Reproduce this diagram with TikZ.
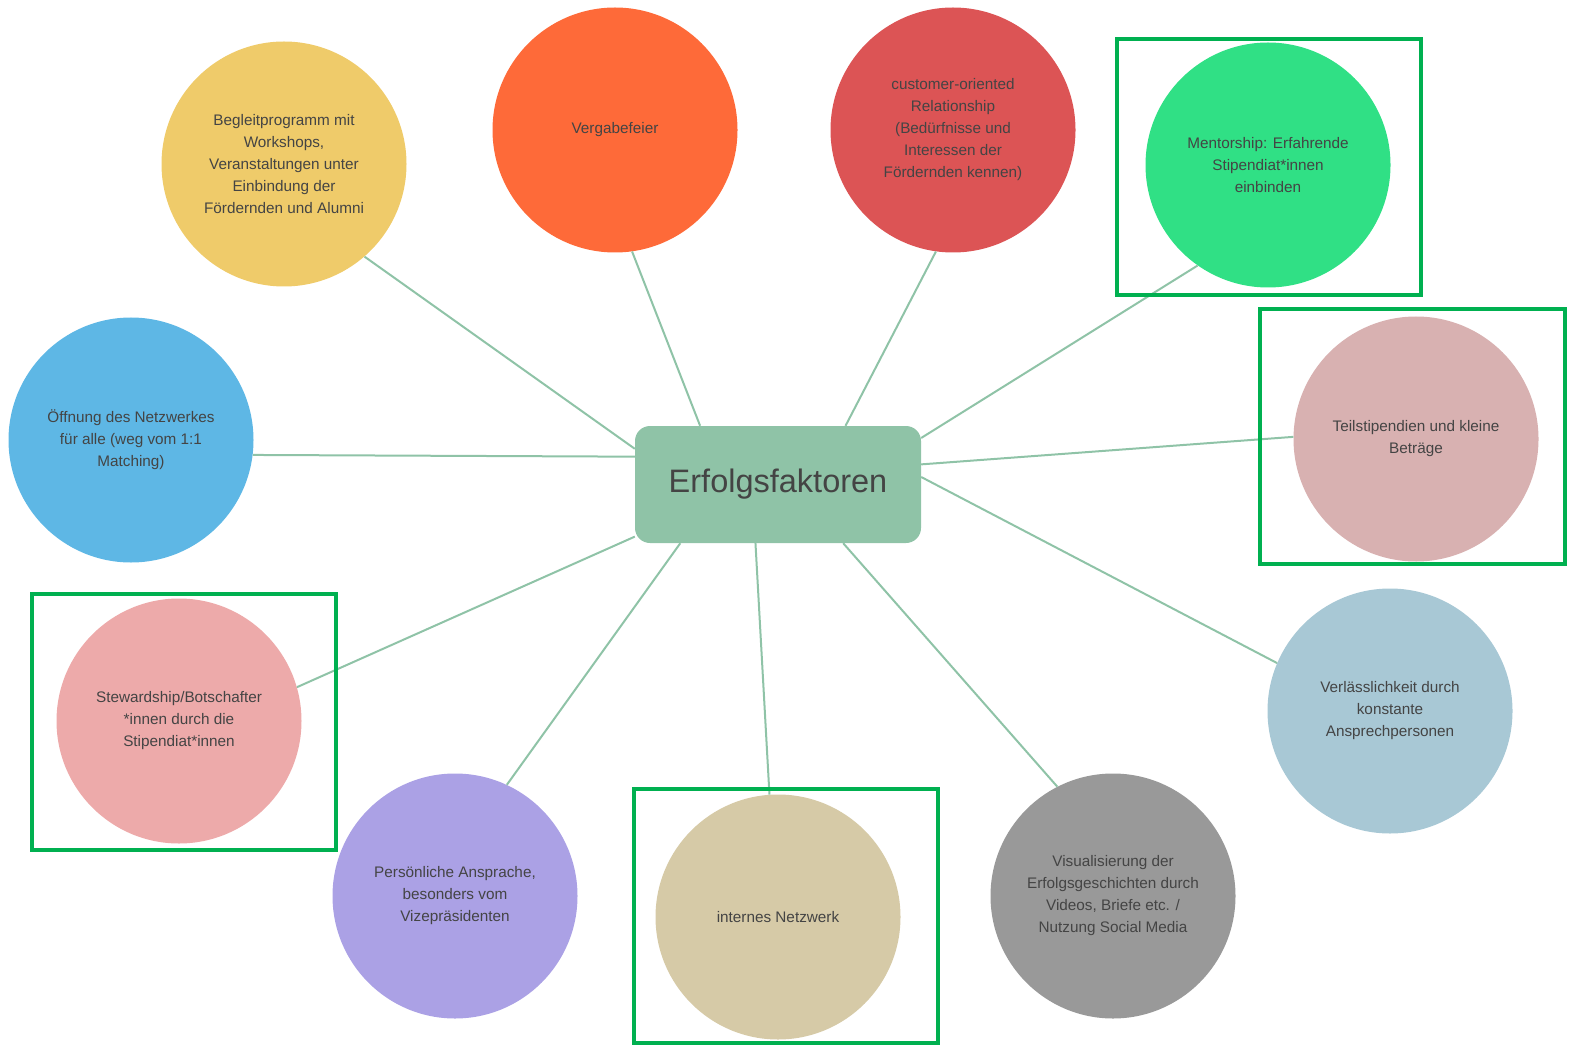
\documentclass[tikz,border=0pt]{standalone}
\usepackage{fontspec}
\setmainfont{Liberation Sans}
\usetikzlibrary{positioning}
\definecolor{hubgreen}{HTML}{8FC3A7}
\definecolor{boxgreen}{HTML}{00B050}
\definecolor{textgray}{HTML}{444444}
\definecolor{cyellow}{HTML}{EFCB6A}
\definecolor{corange}{HTML}{FE6A39}
\definecolor{cred}{HTML}{DC5455}
\definecolor{cmint}{HTML}{30E085}
\definecolor{csky}{HTML}{5EB7E5}
\definecolor{crose}{HTML}{D8B1B1}
\definecolor{csteel}{HTML}{A8C8D5}
\definecolor{cgray}{HTML}{999999}
\definecolor{ctan}{HTML}{D6CAA7}
\definecolor{clilac}{HTML}{ABA1E5}
\definecolor{cpink}{HTML}{EDAAAA}

\begin{document}
\begin{tikzpicture}[x=1pt,y=-1pt,
  bubble/.style={circle,minimum size=245pt,inner sep=0pt,align=center,
    text=textgray,font=\fontsize{15.3}{22}\selectfont},
  link/.style={draw=hubgreen,line width=2pt},
  hilite/.style={draw=boxgreen,line width=4.5pt}]
  \useasboundingbox (0,0) rectangle (1573,1048);
  % central topic
  \node[rectangle,rounded corners=15pt,fill=hubgreen,minimum width=286pt,
        minimum height=117pt,text=textgray,font=\fontsize{32.5}{36}\selectfont]
        (hub) at (778,484.5) {Erfolgsfaktoren};
  % factors around it
  \node[bubble,fill=cyellow] (begleit) at (284,164)
        {Begleitprogramm mit\\Workshops,\\Veranstaltungen unter\\Einbindung der\\Fördernden und Alumni};
  \node[bubble,fill=corange] (feier) at (615,130) {Vergabefeier};
  \node[bubble,fill=cred] (kunde) at (953,130)
        {customer-oriented\\Relationship\\(Bedürfnisse und\\Interessen der\\Fördernden kennen)};
  \node[bubble,fill=cmint] (mentor) at (1268,165)
        {Mentorship: Erfahrende\\Stipendiat*innen\\einbinden};
  \node[bubble,fill=csky] (netz) at (131,440)
        {Öffnung des Netzwerkes\\für alle (weg vom 1:1\\Matching)};
  \node[bubble,fill=crose] (teil) at (1416,439)
        {Teilstipendien und kleine\\Beträge};
  \node[bubble,fill=csteel] (verl) at (1390,711)
        {Verlässlichkeit durch\\konstante\\Ansprechpersonen};
  \node[bubble,fill=cgray] (visu) at (1113,896)
        {Visualisierung der\\Erfolgsgeschichten durch\\Videos, Briefe etc. /\\Nutzung Social Media};
  \node[bubble,fill=ctan] (intern) at (778,917) {internes Netzwerk};
  \node[bubble,fill=clilac] (persoen) at (455,896)
        {Persönliche Ansprache,\\besonders vom\\Vizepräsidenten};
  \node[bubble,fill=cpink] (steward) at (179,721)
        {Stewardship/Botschafter\\*innen durch die\\Stipendiat*innen};
  % connectors: hub angle / bubble angle
  \foreach \c/\a/\b in {begleit/166.5/-49.2, feier/143.5/-82.5, kunde/41.1/-98.9,
      mentor/18/-125.8, teil/8.6/179.5, verl/3/157.2, visu/-42/117.6,
      intern/-111.5/94.7, persoen/-149.2/65.7, steward/-160.4/16.5, netz/169.5/-7.9}
    \draw[link] (hub.\a) -- (\c.\b);
  % highlighted factors
  \draw[hilite] (1117,39) rectangle (1421,295);
  \draw[hilite] (1260,309) rectangle (1565,564);
  \draw[hilite] (32,594) rectangle (336,850);
  \draw[hilite] (634,789) rectangle (938,1043);
\end{tikzpicture}
\end{document}
